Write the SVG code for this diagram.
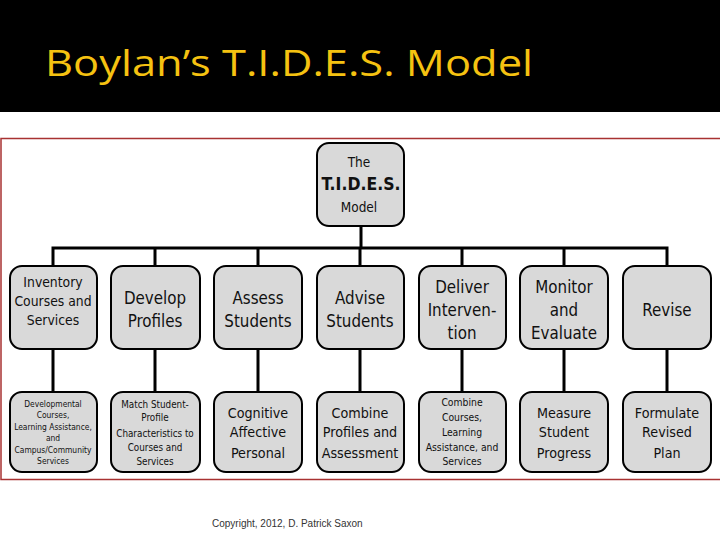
<svg xmlns="http://www.w3.org/2000/svg" width="720" height="540" viewBox="0 0 720 540">
<style>
.box{fill:#d9d9d9;stroke:#000;stroke-width:2}
.ln{stroke:#000;stroke-width:3;fill:none}
text{font-family:"DejaVu Sans Condensed","Liberation Sans",Arial,sans-serif;fill:#111;text-anchor:middle}
.l{font-size:16.8px}
.m{font-size:14.2px}
.s{font-size:13.8px}
.t{font-size:13.5px}
.xs{font-size:8.4px}
.x2{font-size:9.8px}
.x3{font-size:10.3px}
</style>
<rect x="0" y="0" width="720" height="540" fill="#fff"/>
<rect x="0" y="0" width="720" height="112" fill="#000"/>
<text x="45" y="76" textLength="488" lengthAdjust="spacingAndGlyphs" style="font-family:'Open Sans','Noto Sans',sans-serif;font-size:37px;font-weight:500;fill:#f5c211;text-anchor:start">Boylan’s T.I.D.E.S. Model</text>
<rect x="1" y="138.5" width="730" height="341" fill="none" stroke="#a83232" stroke-width="1.5"/>
<g id="connectors">
<path class="ln" d="M361 226V248M53 265V248H667V265M155 248V265M258 248V265M360 248V265M462 248V265M564 248V265"/>
<path class="ln" d="M53 349V392M155 349V392M258 349V392M360 349V392M462 349V392M564 349V392M667 349V392"/>
</g>
<g id="top"><rect class="box" x="317" y="143" width="87" height="83" rx="12"/>
<text class="t" x="359" y="167">The</text><text x="361" y="190" style="font-size:17.5px;font-weight:bold">T.I.D.E.S.</text><text class="t" x="359" y="212">Model</text></g>
<g id="n1"><rect class="box" x="10" y="266" width="87" height="83" rx="12"/>
<text class="s" x="53" y="287">Inventory</text><text class="s" x="53" y="306">Courses and</text><text class="s" x="53" y="325">Services</text></g>
<g id="n2"><rect class="box" x="111" y="266" width="89" height="83" rx="12"/>
<text class="l" x="155" y="304">Develop</text><text class="l" x="155" y="327">Profiles</text></g>
<g id="n3"><rect class="box" x="214" y="266" width="88" height="83" rx="12"/>
<text class="l" x="258" y="304">Assess</text><text class="l" x="258" y="327">Students</text></g>
<g id="n4"><rect class="box" x="317" y="266" width="87" height="83" rx="12"/>
<text class="l" x="360" y="304">Advise</text><text class="l" x="360" y="327">Students</text></g>
<g id="n5"><rect class="box" x="419" y="266" width="87" height="83" rx="12"/>
<text class="l" x="462" y="293">Deliver</text><text class="l" x="462" y="316">Interven-</text><text class="l" x="462" y="339">tion</text></g>
<g id="n6"><rect class="box" x="520" y="266" width="88" height="83" rx="12"/>
<text class="l" x="564" y="293">Monitor</text><text class="l" x="564" y="316">and</text><text class="l" x="564" y="339">Evaluate</text></g>
<g id="n7"><rect class="box" x="623" y="266" width="88" height="83" rx="12"/>
<text class="l" x="667" y="316">Revise</text></g>
<g id="m1"><rect class="box" x="10" y="392" width="87" height="80" rx="12"/>
<text class="xs" x="53" y="407">Developmental</text><text class="xs" x="53" y="418">Courses,</text><text class="xs" x="53" y="430">Learning Assistance,</text><text class="xs" x="53" y="441">and</text><text class="xs" x="53" y="453">Campus/Community</text><text class="xs" x="53" y="464">Services</text></g>
<g id="m2"><rect class="box" x="111" y="392" width="89" height="80" rx="12"/>
<text class="x2" x="155" y="408">Match Student-</text><text class="x2" x="155" y="421">Profile</text><text class="x2" x="155" y="437">Characteristics to</text><text class="x2" x="155" y="451">Courses and</text><text class="x2" x="155" y="465">Services</text></g>
<g id="m3"><rect class="box" x="214" y="392" width="88" height="80" rx="12"/>
<text class="m" x="258" y="418">Cognitive</text><text class="m" x="258" y="437">Affective</text><text class="m" x="258" y="458">Personal</text></g>
<g id="m4"><rect class="box" x="317" y="392" width="87" height="80" rx="12"/>
<text class="m" x="360" y="418">Combine</text><text class="m" x="360" y="437">Profiles and</text><text class="m" x="360" y="458">Assessment</text></g>
<g id="m5"><rect class="box" x="419" y="392" width="87" height="80" rx="12"/>
<text class="x3" x="462" y="406">Combine</text><text class="x3" x="462" y="421">Courses,</text><text class="x3" x="462" y="436">Learning</text><text class="x3" x="462" y="451">Assistance, and</text><text class="x3" x="462" y="465">Services</text></g>
<g id="m6"><rect class="box" x="520" y="392" width="88" height="80" rx="12"/>
<text class="m" x="564" y="418">Measure</text><text class="m" x="564" y="437">Student</text><text class="m" x="564" y="458">Progress</text></g>
<g id="m7"><rect class="box" x="623" y="392" width="88" height="80" rx="12"/>
<text class="m" x="667" y="418">Formulate</text><text class="m" x="667" y="437">Revised</text><text class="m" x="667" y="458">Plan</text></g>
<text x="212" y="527" style="font-family:'Liberation Sans',Arial,sans-serif;font-size:10px;fill:#333;text-anchor:start">Copyright, 2012, D. Patrick Saxon</text>
</svg>
